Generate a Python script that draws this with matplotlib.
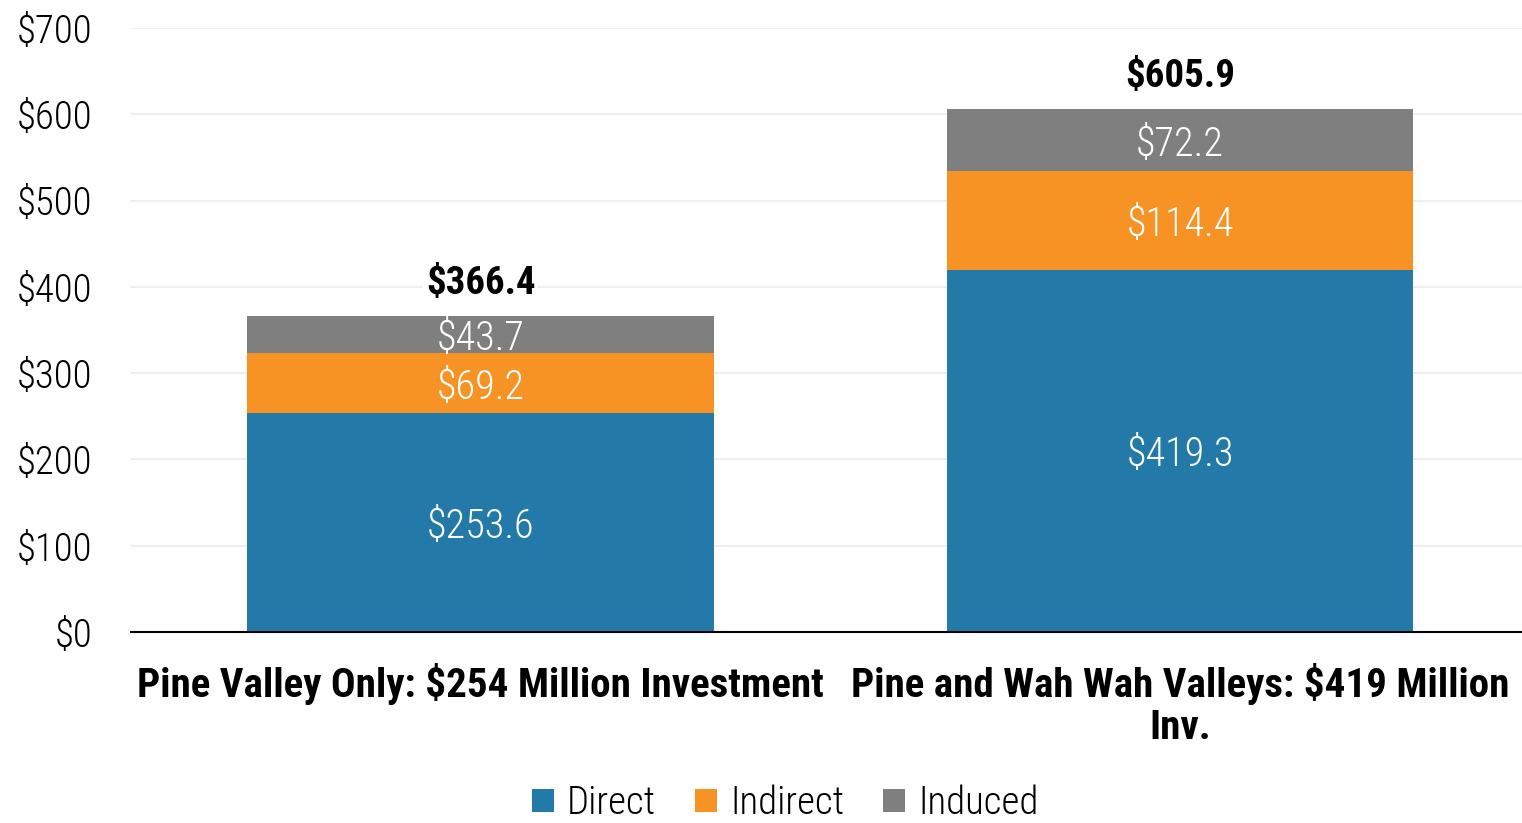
import matplotlib
matplotlib.use("Agg")
import matplotlib.pyplot as plt
import numpy as np

categories = ["Pine Valley Only: $254 Million Investment",
              "Pine and Wah Wah Valleys: $419 Million\nInv."]
series_names = ["Direct", "Indirect", "Induced"]
direct = [253.6, 419.3]
indirect = [69.2, 114.4]
induced = [43.7, 72.2]
totals = [366.4, 605.9]
yticks = [0, 100, 200, 300, 400, 500, 600, 700]

colors = ["#2379A8", "#F69324", "#7F7F7F"]

plt.rcParams["font.family"] = ["Roboto Condensed", "DejaVu Sans"]
plt.rcParams["font.weight"] = "light"
FS = 28

fig = plt.figure(figsize=(15.22, 8.23), dpi=100)
ax = fig.add_axes([0.0861, 0.232, 0.9139, 0.734])

x = np.arange(len(categories))
width = 0.667
bottoms = np.zeros(len(categories))
for name, vals, col in zip(series_names, [direct, indirect, induced], colors):
    vals = np.array(vals)
    ax.bar(x, vals, width, bottom=bottoms, color=col, label=name, zorder=2)
    for xi, b, v in zip(x, bottoms, vals):
        ax.text(xi, b + v / 2, f"${v:.1f}", ha="center", va="center_baseline",
                color="white", fontsize=29, fontweight="light", zorder=3)
    bottoms = bottoms + vals

for xi, t in zip(x, totals):
    ax.text(xi, t + 16, f"${t:.1f}", ha="center", va="bottom", fontsize=FS,
            fontweight="bold", color="black", zorder=3,
            bbox=dict(facecolor="white", edgecolor="none", pad=2))

ax.set_ylim(0, 700)
ax.set_xlim(-0.5, 1.489)
ax.set_yticks(yticks)
ax.set_yticklabels([f"${v}" for v in yticks], fontsize=FS, fontweight="light")
ax.set_xticks(x)
ax.set_xticklabels(categories, fontsize=29.5, fontweight="bold", linespacing=1.15)
ax.tick_params(axis="both", length=0)
ax.tick_params(axis="y", pad=28)
ax.tick_params(axis="x", pad=22)
ax.yaxis.grid(True, color="#EEEEEE", linewidth=1.5, zorder=0)
ax.set_axisbelow(True)
for s in ["left", "right", "top"]:
    ax.spines[s].set_visible(False)
ax.spines["bottom"].set_color("black")
ax.spines["bottom"].set_linewidth(1.5)
ax.spines["bottom"].set_zorder(4)

leg = fig.legend(loc="center", bbox_to_anchor=(0.516, 0.024), ncol=3,
                 frameon=False, prop={"size": FS, "weight": "light"},
                 handlelength=0.55, handleheight=0.55,
                 handletextpad=0.35, columnspacing=1.0)

fig.savefig("out.png", dpi=100)
